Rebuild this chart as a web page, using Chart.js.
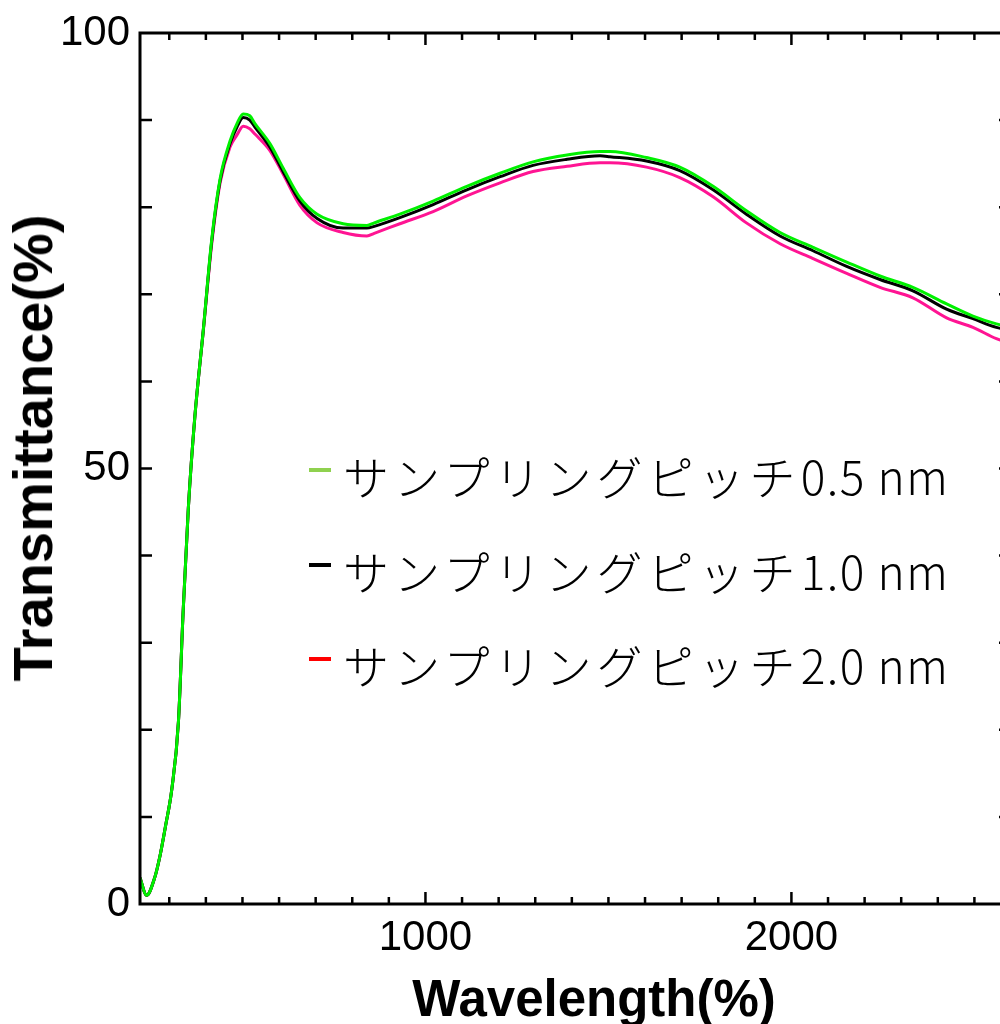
<!DOCTYPE html>
<html>
<head>
<meta charset="utf-8">
<script src="https://cdn.jsdelivr.net/npm/chart.js@4.4.1/dist/chart.umd.min.js"></script>
<style>
  html, body { margin: 0; padding: 0; background: #fff; overflow: hidden; width: 1000px; height: 1024px; }
  #wrap { position: relative; width: 1020px; height: 1024px; }
  #chart { position: absolute; left: 0; top: 0; }
  .ytitle {
    position: absolute; left: 33px; top: 448px; white-space: nowrap;
    font: bold 56px "Liberation Sans", Arial, sans-serif; line-height: 1;
    transform: translate(-50%, -50%) rotate(-90deg);
  }
  .xtitle {
    position: absolute; left: 594px; top: 973px; white-space: nowrap;
    font: bold 51px "Liberation Sans", Arial, sans-serif; line-height: 1;
    transform: translateX(-50%);
  }
  .lg-row {
    position: absolute; left: 309px; height: 60px; line-height: 60px; white-space: nowrap;
    font-family: "Noto Sans CJK JP", sans-serif; font-weight: 300; font-size: 46px; color: #000;
  }
  .lg-mark { position: absolute; left: 0; top: 23px; width: 22px; height: 4px; }
  .lg-text { margin-left: 34px; }
  .kana { letter-spacing: 5px; }
  .num { letter-spacing: 1.5px; }
</style>
</head>
<body>
<div id="wrap">
  <canvas id="chart" width="1020" height="1024"></canvas>
  <div class="ytitle">Transmittance(%)</div>
  <div class="xtitle">Wavelength(%)</div>
  <div id="legend"></div>
</div>
<script>
// ── 軸・目盛り ─────────────────────────
const X_MIN = 220;
const X_MAX = 2600;
const X_LABELS = [1000, 2000];
const X_MINOR = [300, 400, 500, 600, 700, 800, 900, 1100, 1200, 1300, 1400, 1500, 1600, 1700, 1800, 1900, 2100, 2200, 2300, 2400, 2500];
const Y_LABELS = [0, 50, 100];
const Y_MINOR = [10, 20, 30, 40, 50, 60, 70, 80, 90];

// ── データ──────────────────────
const wavelength = [220, 238, 260, 275, 290, 307, 325, 338, 352, 370, 393, 416, 439, 466, 485, 502, 520, 534, 575, 611, 657, 704, 775, 840, 860, 930, 1021, 1113, 1204, 1294, 1387, 1477, 1504, 1604, 1695, 1786, 1877, 1969, 2059, 2151, 2242, 2332, 2424, 2496, 2560, 2600];

const pitch05 = [3.0, 1.0, 3.0, 5.6, 9.0, 13.2, 20.9, 33.7, 45.4, 56.0, 65.9, 76.3, 83.3, 87.6, 89.6, 90.7, 90.5, 89.6, 87.3, 84.5, 81.1, 79.2, 78.1, 77.9, 78.2, 79.2, 80.7, 82.4, 83.9, 85.2, 86.0, 86.4, 86.4, 85.7, 84.6, 82.4, 79.6, 77.1, 75.4, 73.7, 72.1, 70.8, 68.9, 67.5, 66.6, 66.2];

const pitch10 = [3.0, 1.0, 3.0, 5.6, 9.0, 13.2, 20.9, 33.7, 45.4, 56.0, 65.9, 76.1, 83.1, 87.3, 89.2, 90.3, 90.0, 89.2, 86.9, 84.1, 80.7, 78.7, 77.6, 77.6, 77.8, 78.8, 80.3, 82.0, 83.5, 84.8, 85.5, 85.9, 85.8, 85.3, 84.2, 82.0, 79.2, 76.7, 75.0, 73.2, 71.7, 70.4, 68.3, 67.2, 66.2, 65.9];

const pitch20 = [3.0, 1.0, 3.0, 5.6, 9.0, 13.2, 20.9, 33.7, 45.4, 56.0, 65.8, 75.8, 82.8, 86.9, 88.3, 89.3, 89.0, 88.4, 86.5, 83.8, 80.2, 78.2, 77.1, 76.7, 77.0, 78.1, 79.5, 81.3, 82.8, 84.1, 84.7, 85.1, 85.1, 84.6, 83.4, 81.2, 78.2, 75.8, 74.1, 72.4, 70.8, 69.6, 67.3, 66.2, 64.9, 64.3];

const seriesNames = ["サンプリングピッチ0.5 nm", "サンプリングピッチ1.0 nm", "サンプリングピッチ2.0 nm"];
const lineColors = ["#00f000", "#000000", "#ff1493"];
const legendColors = ["#8fd14f", "#000000", "#ff0000"];

// ── 凡例（HTML）──────────────────────
const LEGEND_TOPS = [445, 540, 634];
const legendBox = document.getElementById("legend");
seriesNames.forEach((name, i) => {
  const row = document.createElement("div");
  row.className = "lg-row";
  row.style.top = LEGEND_TOPS[i] + "px";
  const m = name.match(/^(\D+)(.*)$/);
  row.innerHTML = `<span class="lg-mark" style="background:${legendColors[i]}"></span>` +
    `<span class="lg-text"><span class="kana">${m[1]}</span><span class="num">${m[2]}</span></span>`;
  legendBox.appendChild(row);
});

// ── 枠と内向き目盛り ───────────────────
const frameTicks = {
  id: "frameTicks",
  afterDatasetsDraw(chart) {
    const { ctx, chartArea: a, scales: { x, y } } = chart;
    ctx.save();
    ctx.strokeStyle = "#000";
    ctx.lineWidth = 2.5;
    ctx.beginPath();
    X_MINOR.forEach(v => {
      const px = x.getPixelForValue(v);
      ctx.moveTo(px, a.bottom); ctx.lineTo(px, a.bottom - 7);
      ctx.moveTo(px, a.top); ctx.lineTo(px, a.top + 7);
    });
    X_LABELS.forEach(v => {
      const px = x.getPixelForValue(v);
      ctx.moveTo(px, a.bottom); ctx.lineTo(px, a.bottom - 12);
      ctx.moveTo(px, a.top); ctx.lineTo(px, a.top + 12);
    });
    Y_MINOR.forEach(v => {
      const py = y.getPixelForValue(v);
      ctx.moveTo(a.left, py); ctx.lineTo(a.left + 12, py);
      ctx.moveTo(a.right, py); ctx.lineTo(a.right - 12, py);
    });
    ctx.stroke();
    ctx.lineWidth = 3;
    ctx.strokeRect(a.left, a.top, a.right - a.left, a.bottom - a.top);
    ctx.restore();
  },
};

const makeSet = (label, data, i) => ({
  label,
  data: wavelength.map((w, k) => ({ x: w, y: data[k] })),
  borderColor: lineColors[i],
  backgroundColor: lineColors[i],
  borderWidth: 3,
  pointRadius: 0,
  fill: false,
  cubicInterpolationMode: "monotone",
});

new Chart(document.getElementById("chart"), {
  type: "line",
  data: {
    datasets: [
      makeSet(seriesNames[0], pitch05, 0),
      makeSet(seriesNames[1], pitch10, 1),
      makeSet(seriesNames[2], pitch20, 2),
    ],
  },
  options: {
    responsive: false,
    animation: false,
    layout: { padding: { top: 33, right: 9, left: 0, bottom: 0 } },
    plugins: { legend: { display: false }, tooltip: { enabled: false } },
    scales: {
      x: {
        type: "linear",
        min: X_MIN,
        max: X_MAX,
        grid: { display: false },
        border: { display: false },
        afterBuildTicks: s => { s.ticks = X_LABELS.map(v => ({ value: v })); },
        afterFit: s => { s.height = 120; },
        ticks: {
          color: "#000",
          padding: 1,
          maxRotation: 0,
          callback: v => String(v),
          font: { family: "'Liberation Sans', Arial, sans-serif", size: 42 },
        },
      },
      y: {
        min: 0,
        max: 100,
        grid: { display: false },
        border: { display: false },
        afterBuildTicks: s => { s.ticks = Y_LABELS.map(v => ({ value: v })); },
        afterFit: s => { s.width = 140; },
        ticks: {
          color: "#000",
          padding: 2,
          callback: v => String(v),
          font: { family: "'Liberation Sans', Arial, sans-serif", size: 42 },
        },
      },
    },
  },
  plugins: [frameTicks],
});
</script>
</body>
</html>
